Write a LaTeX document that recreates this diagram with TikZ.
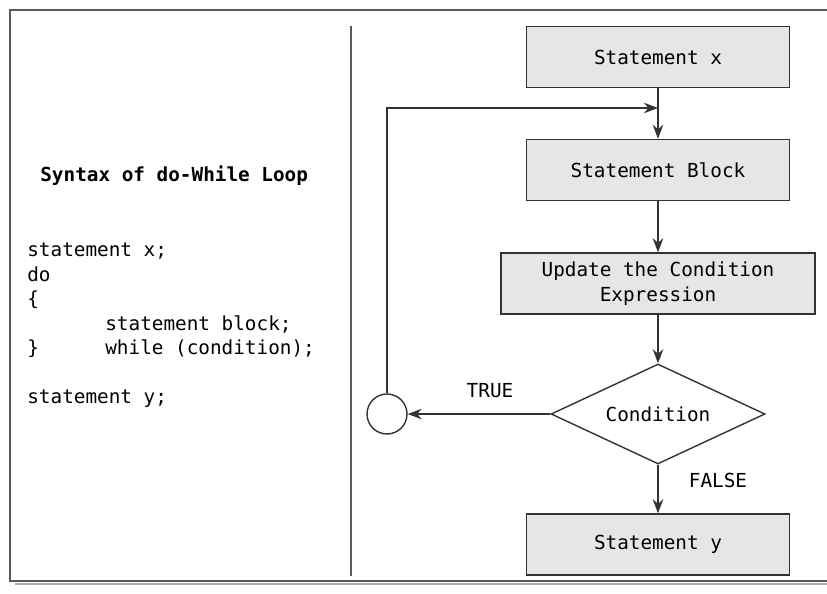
\documentclass[tikz,border=0pt]{standalone}
\usepackage{fontspec}
\setmonofont{DejaVu Sans Mono}
\usetikzlibrary{arrows.meta,shapes.geometric}
\definecolor{framegray}{HTML}{5A5A5A}
\definecolor{boxgray}{HTML}{E6E6E6}
\definecolor{linegray}{HTML}{333333}
\tikzset{
    stmt/.style={draw=linegray,line width=0.8pt,fill=boxgray,minimum width=5.26cm,minimum height=1.22cm,align=center},
    flow/.style={-{Stealth[length=8pt,width=6pt]},draw=linegray,line width=0.8pt},
    code/.style={anchor=base west,inner sep=0pt},
}

\begin{document}
\begin{tikzpicture}[font=\ttfamily\fontsize{11}{14.2}\selectfont]
            \useasboundingbox (0,0) rectangle (16.54,11.86);
            \draw[framegray!50,line width=1pt] (0.3,0.18)--(16.54,0.18);
            \draw[framegray,line width=1.1pt] (16.54,11.66)--(0.2,11.66)--(0.2,0.24)--(16.54,0.24);
            \draw[framegray,line width=0.9pt] (7.02,11.34)--(7.02,0.34);
            \node[code,font=\ttfamily\bfseries\fontsize{11}{14.2}\selectfont] (title) at (0.8,8.22) {Syntax of do-While Loop};
            \node[code] (line1) at (0.54,6.72) {statement x;};
            \node[code] (line2) at (0.54,6.23) {do};
            \node[code] (line3) at (0.54,5.74) {\{};
            \node[code] (line4) at (2.1,5.25) {statement block;};
            \node[code] (line5) at (0.54,4.76) {\}};
            \node[code] (line6) at (2.1,4.76) {while (condition);};
            \node[code] (line7) at (0.54,3.78) {statement y;};
            \node[stmt] (stx) at (13.16,10.72) {Statement x};
            \node[stmt] (block) at (13.16,8.46) {Statement Block};
            \node[stmt,minimum width=6.28cm] (update) at (13.16,6.19) {Update the Condition\\Expression};
            \node[diamond,aspect=2.14,draw=linegray,line width=0.8pt,minimum width=4.28cm,minimum height=2cm,inner sep=0pt] (cond) at (13.16,3.58) {Condition};
            \node[circle,draw=linegray,line width=0.8pt,minimum size=0.8cm,inner sep=0pt] (join) at (7.74,3.58) {};
            \node[stmt] (sty) at (13.16,0.97) {Statement y};
            \coordinate (merge) at (13.16,9.7);
            \draw[flow] (stx)--(block);
            \draw[flow] (block)--(update);
            \draw[flow] (update)--(cond);
            \draw[flow] (cond)--(sty);
            \draw[flow] (cond)--(join);
            \draw[flow] (join)|-(merge);
            \node (true) at (9.8,4.04) {TRUE};
            \node (false) at (14.36,2.26) {FALSE};
        \end{tikzpicture}
\end{document}
